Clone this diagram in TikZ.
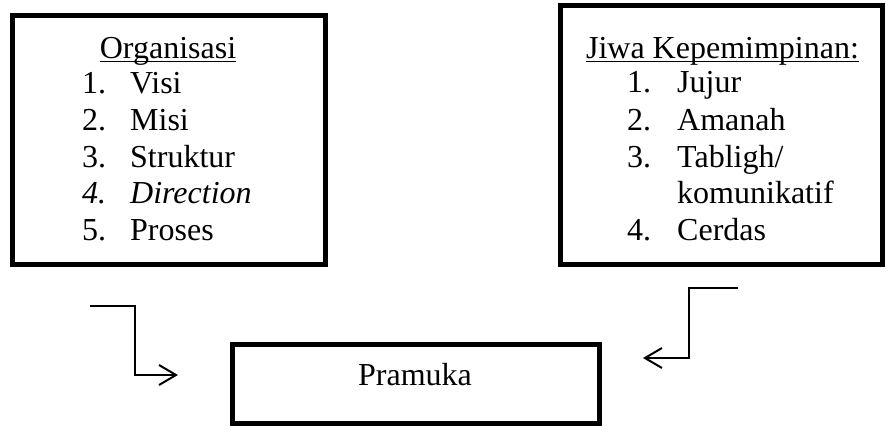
\documentclass[tikz,border=0pt]{standalone}
\usepackage{fontspec}
\setmainfont{Liberation Serif}
\usetikzlibrary{arrows.meta}
\begin{document}
\begin{tikzpicture}[x=1pt,y=-1pt,
  box/.style={draw,line width=5pt,inner sep=0pt,minimum width=#1},
  txt/.style={anchor=base west,inner sep=0pt,font=\fontsize{32}{36.5}\selectfont},
  ctxt/.style={anchor=base,inner sep=0pt,font=\fontsize{32}{36.5}\selectfont},
  uline/.style={line width=1.8pt},
  conn/.style={line width=2pt,-{Straight Barb[length=17pt,width=20pt]}}]
\useasboundingbox (0,0) rectangle (886,426);
% boxes
\node[box=313pt,minimum height=249pt] (org) at (169,140) {};
\node[box=322pt,minimum height=259pt] (jiwa) at (721.5,135) {};
\node[box=366.5pt,minimum height=79.5pt] (pram) at (415.75,383.75) {};
% left box text
\node[ctxt] (ot) at (168,58) {Organisasi};
\draw[uline] ([yshift=-3.5pt]ot.base west) -- ([yshift=-3.5pt]ot.base east);
\node[txt] (o1n) at (82,93) {1.};
\node[txt] (o1) at (130,93) {Visi};
\node[txt] (o2n) at (82,130) {2.};
\node[txt] (o2) at (130,130) {Misi};
\node[txt] (o3n) at (82,167) {3.};
\node[txt] (o3) at (130,167) {Struktur};
\node[txt] (o4n) at (82,203) {\itshape 4.};
\node[txt] (o4) at (130,203) {\itshape Direction};
\node[txt] (o5n) at (82,240) {5.};
\node[txt] (o5) at (130,240) {Proses};
% right box text
\node[ctxt] (jt) at (722.5,58) {Jiwa Kepemimpinan:};
\draw[uline] ([yshift=-3.5pt]jt.base west) -- ([yshift=-3.5pt]jt.base east);
\node[txt] (j1n) at (627,92) {1.};
\node[txt] (j1) at (677,92) {Jujur};
\node[txt] (j2n) at (627,130) {2.};
\node[txt] (j2) at (677,130) {Amanah};
\node[txt] (j3n) at (627,167) {3.};
\node[txt] (j3) at (677,167) {Tabligh/};
\node[txt] (j3b) at (677,203) {komunikatif};
\node[txt] (j4n) at (627,240) {4.};
\node[txt] (j4) at (677,240) {Cerdas};
% pramuka
\node[ctxt] (pt) at (415,385) {Pramuka};
% connectors
\coordinate (la) at (90,306);
\coordinate (lb) at (135,306);
\coordinate (lc) at (135,375);
\coordinate (ld) at (178,375);
\draw[conn] (la) -- (lb) -- (lc) -- (ld);
\coordinate (ra) at (738,288);
\coordinate (rb) at (689,288);
\coordinate (rc) at (689,358);
\coordinate (rd) at (643,358);
\draw[conn] (ra) -- (rb) -- (rc) -- (rd);
\end{tikzpicture}
\end{document}
